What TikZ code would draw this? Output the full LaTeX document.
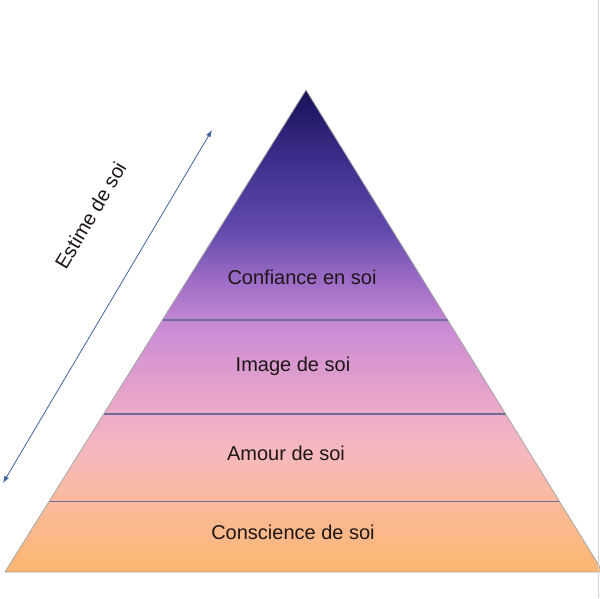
\documentclass[tikz,border=0pt]{standalone}
\usepackage{fontspec}
\setmainfont{Liberation Sans}
\usetikzlibrary{calc, arrows.meta}

\definecolor{soiA}{RGB}{253,182,112}
\definecolor{soiB}{RGB}{250,186,158}
\definecolor{soiC}{RGB}{246,184,192}
\definecolor{soiD}{RGB}{232,166,202}
\definecolor{soiE}{RGB}{204,140,212}
\definecolor{soiF}{RGB}{156,108,198}
\definecolor{soiG}{RGB}{98,74,172}
\definecolor{soiH}{RGB}{62,46,140}
\definecolor{soiI}{RGB}{22,18,88}
\definecolor{traitSoi}{RGB}{110,108,150}
\definecolor{flecheSoi}{RGB}{62,100,158}
\definecolor{texteSoi}{RGB}{30,22,22}

\pgfdeclareverticalshading{pyramide}{100bp}{%
  color(0bp)=(soiA); color(25bp)=(soiA); color(32.5bp)=(soiB);
  color(37.7bp)=(soiC); color(42.8bp)=(soiD); color(50.1bp)=(soiE);
  color(55.3bp)=(soiF); color(60.5bp)=(soiG); color(67.7bp)=(soiH);
  color(75bp)=(soiI); color(100bp)=(soiI)}

\begin{document}
\begin{tikzpicture}[x=1pt, y=-1pt,
    etage/.style={font=\fontsize{20}{24}\selectfont, text=texteSoi},
    bande/.style={draw=traitSoi, line width=1.2pt},
    contour/.style={draw=gray!70, line width=0.8pt},
    fleche/.style={draw=flecheSoi, line width=0.8pt, {Latex[length=7pt,width=5pt]}-{Latex[length=7pt,width=5pt]}}]
		\useasboundingbox (0,0) rectangle (600,598);
		\coordinate (sommet) at (306,90);
		\coordinate (baseG) at (5,572);
		\coordinate (baseD) at (603,572);
		% fond en degrade
		\begin{scope}
		\clip (sommet) -- (baseD) -- (baseG) -- cycle;
		\shade[shading=pyramide] (0,90) rectangle (610,572);
		\end{scope}
		\foreach \t/\n in {0.477/a, 0.672/b, 0.853/c} {
			\coordinate (g\n) at ($(sommet)!\t!(baseG)$);
			\coordinate (d\n) at ($(sommet)!\t!(baseD)$);
			\draw[bande] (g\n) -- (d\n);
		}
		\draw[contour] (sommet) -- (baseD) -- (baseG) -- cycle;
		\node[etage] (confiance) at (302,277) {Confiance en soi};
		\node[etage] (image) at (293,366) {Image de soi};
		\node[etage] (amour) at (286,453) {Amour de soi};
		\node[etage] (conscience) at (293,532) {Conscience de soi};
		% fleche
		\coordinate (basFleche) at (3,483);
		\coordinate (hautFleche) at (212,130);
		\draw[fleche] (basFleche) -- (hautFleche)
			node[etage, pos=0.67, sloped, above=50pt] (estime) {Estime de soi};
		\draw[gray!35, line width=1pt] (598.5,0) -- (598.5,598);
\end{tikzpicture}
\end{document}
